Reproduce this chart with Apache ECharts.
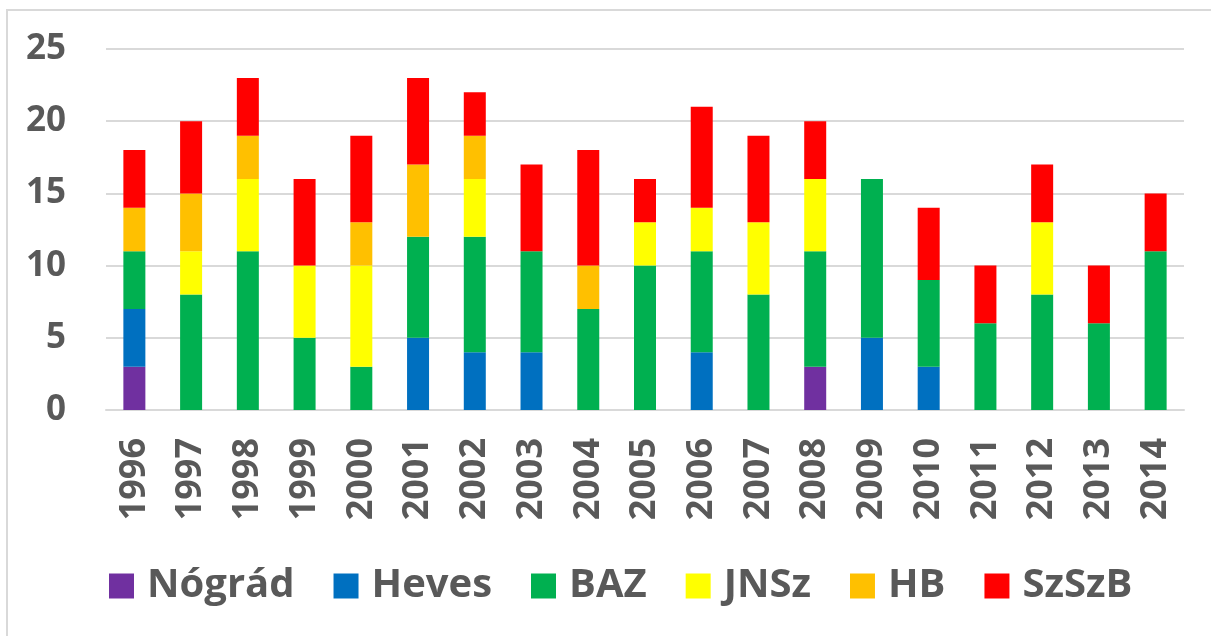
<!DOCTYPE html>
<html>
<head>
<meta charset="utf-8">
<script src="https://cdn.jsdelivr.net/npm/echarts@6/dist/echarts.min.js"></script>
<style>
  html, body { margin: 0; padding: 0; background: #fff; overflow: hidden; }
  #frame { position: absolute; left: 6px; top: 9px; width: 1400px; height: 800px; border: 2px solid #d9d9d9; }
  #main { position: absolute; left: 0; top: 0; width: 1211px; height: 636px; }
</style>
</head>
<body>
<div id="frame"></div>
<div id="main"></div>
<script>
// évek
var years = ['1996','1997','1998','1999','2000','2001','2002','2003','2004','2005',
             '2006','2007','2008','2009','2010','2011','2012','2013','2014'];
var nograd = [3,0,0,0,0,0,0,0,0,0,0,0,3,0,0,0,0,0,0];
var heves  = [4,0,0,0,0,5,4,4,0,0,4,0,0,5,3,0,0,0,0];
var baz    = [4,8,11,5,3,7,8,7,7,10,7,8,8,11,6,6,8,6,11];
var jnsz   = [0,3,5,5,7,0,4,0,0,3,3,5,5,0,0,0,5,0,0];
var hb     = [3,4,3,0,3,5,3,0,3,0,0,0,0,0,0,0,0,0,0];
var szszb  = [4,5,4,6,6,6,3,6,8,3,7,6,4,0,5,4,4,4,4];
var yTicks = [0,5,10,15,20,25];

var names = ['Nógrád','Heves','BAZ','JNSz','HB','SzSzB'];
var colors = ['#7030a0','#0070c0','#00b050','#ffff00','#ffc000','#ff0000'];
var data = [nograd, heves, baz, jnsz, hb, szszb];
var font = '"Open Sans", "Noto Sans", sans-serif';

var myChart = echarts.init(document.getElementById('main'));
var series = [];
for (var i = 0; i < names.length; i++) {
    series.push({
        name: names[i],
        type: 'bar',
        stack: 'total',
        barWidth: 22,
        itemStyle: {color: colors[i]},
        data: data[i]
    });
}
myChart.setOption({
    animation: false,
    grid: {left: 106, right: 27, top: 49, bottom: 226, containLabel: false},
    legend: {
        bottom: 25,
        left: 104,
        icon: 'rect',
        itemWidth: 25,
        itemHeight: 25,
        itemGap: 39,
        data: names,
        textStyle: {fontFamily: font, fontWeight: 'bold', fontSize: 40, color: '#595959', padding: [0, 0, 0, 8]}
    },
    xAxis: {
        type: 'category',
        data: years,
        axisTick: {show: false},
        axisLine: {lineStyle: {color: '#d9d9d9', width: 2}},
        axisLabel: {rotate: 90, fontFamily: font, fontWeight: 'bold', fontSize: 36, color: '#595959', margin: 28}
    },
    yAxis: {
        type: 'value',
        min: 0,
        max: 25,
        interval: 5,
        axisLine: {show: false},
        axisTick: {show: false},
        splitLine: {lineStyle: {color: '#d9d9d9', width: 2}},
        axisLabel: {
            fontFamily: font, fontWeight: 'bold', fontSize: 35, color: '#595959', margin: 40,
            formatter: function (v) { return yTicks.indexOf(v) >= 0 ? String(v) : ''; }
        }
    },
    series: series
});
</script>
</body>
</html>
